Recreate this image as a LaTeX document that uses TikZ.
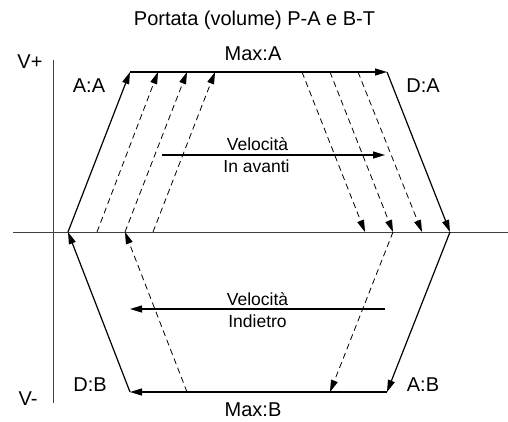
\documentclass[tikz,border=0pt]{standalone}
\usepackage{fontspec}
\setmainfont{Liberation Sans}
\usetikzlibrary{arrows.meta}
\begin{document}
\begin{tikzpicture}[x=1pt,y=-1pt,
  axisline/.style={draw=black!75,line width=1pt},
  solidarrow/.style={draw=black,line width=1.2pt,-{Triangle[length=12pt,width=7pt]}},
  dasharrow/.style={draw=black,line width=0.8pt,dash pattern=on 6pt off 4pt,-{Triangle[length=12pt,width=7pt]}},
  lbl/.style={anchor=base,inner sep=0pt,font=\fontsize{20}{22}\selectfont},
  vlbl/.style={anchor=base,inner sep=0pt,font=\fontsize{17.5}{19}\selectfont}]
\useasboundingbox (0,0) rectangle (508,421);
% axes
\coordinate (vtop) at (53,60);
\coordinate (vbot) at (53,403);
\coordinate (hleft) at (13,232);
\coordinate (hright) at (508,232);
\draw[axisline] (vtop) -- (vbot);
\draw[axisline] (hleft) -- (hright);
% main hexagon corners
\coordinate (L0) at (68,232);
\coordinate (TL) at (130,72);
\coordinate (TR) at (387,72);
\coordinate (R0) at (450,232);
\coordinate (BR) at (387,392);
\coordinate (BL) at (130,392);
\draw[solidarrow] (L0) -- (TL);
\draw[solidarrow] (TL) -- (TR);
\draw[solidarrow] (TR) -- (R0);
\draw[solidarrow] (R0) -- (BR);
\draw[solidarrow] (BR) -- (BL);
\draw[solidarrow] (BL) -- (L0);
% dashed upward
\coordinate (u1a) at (97,232);  \coordinate (u1b) at (158,72);
\coordinate (u2a) at (125,232); \coordinate (u2b) at (187,72);
\coordinate (u3a) at (153,232); \coordinate (u3b) at (215,72);
\draw[dasharrow] (u1a) -- (u1b);
\draw[dasharrow] (u2a) -- (u2b);
\draw[dasharrow] (u3a) -- (u3b);
% dashed downward
\coordinate (d1a) at (302,72); \coordinate (d1b) at (365,232);
\coordinate (d2a) at (330,72); \coordinate (d2b) at (393,232);
\coordinate (d3a) at (358,72); \coordinate (d3b) at (422,232);
\draw[dasharrow] (d1a) -- (d1b);
\draw[dasharrow] (d2a) -- (d2b);
\draw[dasharrow] (d3a) -- (d3b);
% lower dashed
\coordinate (e1b) at (330,392);
\coordinate (e2a) at (187,392);
\draw[dasharrow] (d2b) -- (e1b);
\draw[dasharrow] (e2a) -- (u2a);
% velocity arrows
\coordinate (va) at (162,155); \coordinate (vb) at (385,155);
\coordinate (wa) at (385,309); \coordinate (wb) at (130,309);
\draw[solidarrow] (va) -- (vb);
\draw[solidarrow] (wa) -- (wb);
% labels
\node[lbl] (title) at (254.5,25) {Portata (volume) P-A e B-T};
\node[lbl] (vp) at (30,68) {V+};
\node[lbl] (aa) at (89,92) {A:A};
\node[lbl] (maxa) at (253,60.5) {Max:A};
\node[lbl] (da) at (423,92) {D:A};
\node[vlbl] (vel1) at (257.5,150) {Velocità};
\node[vlbl] (avanti) at (256.5,172) {In avanti};
\node[vlbl] (vel2) at (257.5,305) {Velocità};
\node[vlbl] (indietro) at (257.5,327) {Indietro};
\node[lbl] (db) at (90,391.5) {D:B};
\node[lbl] (vm) at (28,405) {V-};
\node[lbl] (ab) at (423,391) {A:B};
\node[lbl] (maxb) at (253,416) {Max:B};
\end{tikzpicture}
\end{document}
